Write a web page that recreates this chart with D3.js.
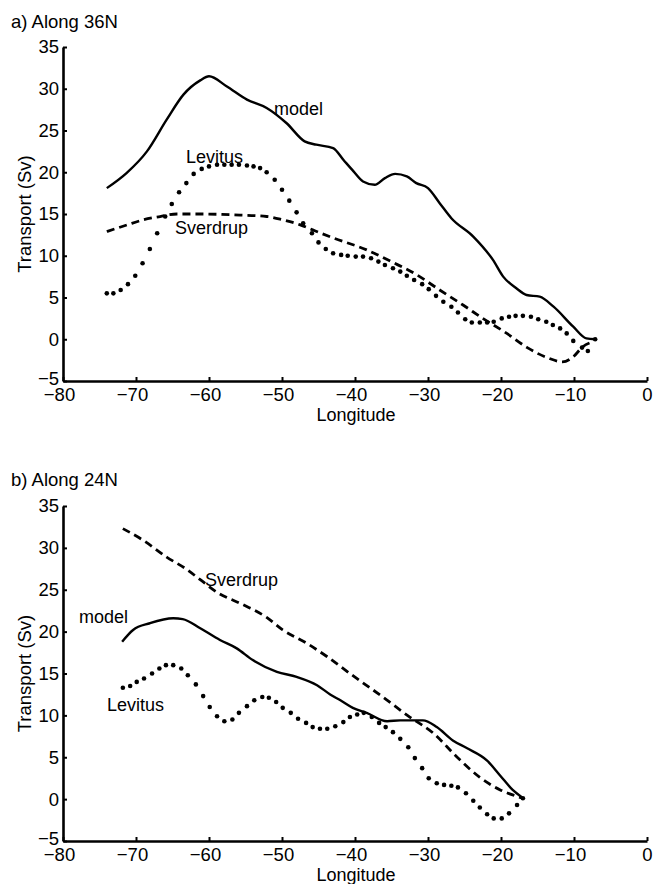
<!DOCTYPE html>
<html>
<head>
<meta charset="utf-8">
<script src="https://cdn.jsdelivr.net/npm/d3@7"></script>
<style>
  body { margin: 0; background: #fff; }
  svg { font-family: "Liberation Sans", Arial, Helvetica, sans-serif; }
</style>
</head>
<body>
<div id="chart"></div>
<script>
// tick values
const lonTicks = [-80, -70, -60, -50, -40, -30, -20, -10, 0];
const svTicks = [-5, 0, 5, 10, 15, 20, 25, 30, 35];

// a) along 36N
const modelLon36 = [-74.0, -71.3, -68.5, -65.8, -63.5, -61.2, -60.0, -57.6, -54.8, -52.1, -49.4, -46.9, -45.3, -43.0, -41.6, -40.2, -38.9, -37.3, -35.9, -34.5, -32.9, -31.6, -30.0, -28.4, -26.8, -23.8, -21.1, -19.7, -17.9, -16.5, -14.7, -12.8, -10.1, -8.3, -7.1];
const modelSv36 = [18.1, 19.9, 22.5, 26.3, 29.3, 31.0, 31.5, 30.3, 28.7, 27.7, 25.9, 23.7, 23.3, 22.9, 21.5, 20.1, 18.9, 18.5, 19.3, 19.8, 19.5, 18.7, 18.1, 16.3, 14.5, 12.3, 9.5, 7.5, 6.1, 5.3, 5.1, 3.9, 1.5, 0.1, 0.0];

const levLon36 = [-74.0, -73.1, -72.1, -71.1, -70.1, -69.1, -68.1, -67.1, -66.0, -65.1, -64.1, -63.1, -62.1, -61.0, -60.0, -58.9, -57.9, -56.9, -55.9, -54.8, -53.9, -53.0, -52.1, -51.0, -50.0, -49.0, -48.0, -47.1, -45.9, -45.0, -44.0, -43.0, -41.9, -41.0, -39.9, -38.9, -37.8, -36.8, -35.9, -34.8, -33.8, -32.9, -31.9, -30.8, -29.9, -28.9, -27.9, -26.8, -25.9, -24.9, -24.0, -22.9, -21.9, -21.0, -19.9, -18.9, -18.0, -17.0, -15.9, -14.9, -13.8, -12.9, -11.9, -11.0, -10.1, -8.9, -8.1, -7.1];
const levSv36 = [5.5, 5.5, 5.9, 6.6, 7.6, 9.1, 10.8, 12.7, 14.7, 16.2, 17.6, 18.7, 19.8, 20.4, 20.7, 20.9, 20.9, 20.9, 20.9, 20.8, 20.7, 20.5, 20.0, 19.1, 17.9, 16.6, 15.2, 13.9, 12.7, 11.6, 10.8, 10.3, 10.1, 10.0, 9.9, 9.9, 9.7, 9.3, 8.9, 8.5, 8.1, 7.6, 7.1, 6.6, 6.0, 5.2, 4.5, 3.9, 3.2, 2.4, 2.0, 2.0, 2.0, 2.1, 2.5, 2.7, 2.8, 2.8, 2.7, 2.4, 2.1, 1.7, 1.3, 0.7, -0.2, -1.0, -1.4, 0.0];

const sverLon36 = [-74.0, -71.2, -69.0, -66.7, -64.4, -61.2, -56.7, -52.1, -49.9, -47.5, -45.8, -43.2, -38.4, -34.8, -31.5, -28.4, -25.2, -22.5, -19.2, -16.4, -13.7, -11.6, -10.1, -8.8, -7.4];
const sverSv36 = [12.9, 13.7, 14.3, 14.7, 15.0, 15.0, 14.9, 14.7, 14.3, 13.7, 13.1, 12.2, 10.7, 9.2, 7.7, 5.9, 4.1, 2.5, 0.7, -1.0, -2.2, -2.7, -2.1, -0.9, -0.3];

// b) along 24N
const modelLon24 = [-71.9, -70.4, -68.1, -64.9, -63.6, -61.2, -58.5, -56.2, -54.0, -50.7, -48.0, -45.2, -43.4, -42.0, -40.3, -38.4, -35.6, -33.8, -30.7, -28.8, -26.6, -24.7, -21.9, -20.1, -18.4, -17.1];
const modelSv24 = [18.8, 20.2, 21.0, 21.6, 21.5, 20.4, 19.0, 18.0, 16.6, 15.2, 14.6, 13.6, 12.5, 11.8, 10.9, 10.3, 9.3, 9.4, 9.4, 8.6, 7.0, 6.1, 4.6, 2.8, 1.1, 0.2];

const levLon24 = [-71.8, -70.8, -69.9, -68.9, -67.8, -66.8, -65.9, -64.9, -63.8, -62.9, -61.8, -60.8, -59.9, -58.9, -57.9, -56.8, -55.9, -54.8, -53.8, -52.7, -51.8, -50.8, -49.9, -48.8, -47.8, -46.7, -45.8, -44.8, -43.8, -42.7, -41.6, -40.7, -39.7, -38.8, -37.7, -36.7, -35.8, -34.8, -33.8, -32.7, -31.8, -30.8, -29.9, -28.8, -27.8, -26.8, -25.9, -24.8, -23.8, -22.9, -21.9, -21.0, -19.9, -18.9, -17.8, -17.0];
const levSv24 = [13.3, 13.5, 14.0, 14.4, 15.0, 15.6, 16.0, 16.0, 15.6, 14.8, 13.7, 12.3, 11.0, 9.9, 9.3, 9.5, 10.3, 11.1, 11.8, 12.2, 12.1, 11.6, 10.9, 10.3, 9.6, 9.1, 8.6, 8.4, 8.4, 8.7, 9.2, 9.8, 10.1, 10.3, 9.8, 9.1, 8.6, 8.0, 7.2, 6.2, 4.9, 3.7, 2.5, 1.9, 1.7, 1.6, 1.4, 0.7, -0.2, -1.0, -1.8, -2.3, -2.3, -1.7, -0.7, 0.1];

const sverLon24 = [-71.8, -69.0, -65.8, -63.0, -61.2, -58.9, -55.3, -52.1, -49.9, -46.6, -43.8, -40.7, -36.2, -32.5, -29.3, -26.0, -22.9, -20.1, -18.4, -17.0];
const sverSv24 = [32.3, 30.9, 28.9, 27.4, 26.2, 24.7, 23.2, 21.7, 20.2, 18.6, 17.0, 15.0, 12.2, 9.8, 7.9, 5.0, 2.6, 1.1, 0.5, 0.1];

const width = 653, height = 884;
const svg = d3.select('#chart').append('svg')
  .attr('width', width)
  .attr('height', height);

const zip = (xs, ys) => xs.map((d, i) => ({ lon: d, sv: ys[i] }));

function panel(opts) {
  const x = d3.scaleLinear().domain([-80, 0]).range([63, 647]);
  const y = d3.scaleLinear().domain([-5, 35]).range([opts.bottom, opts.top]);
  const g = svg.append('g');

  // title
  g.append('text')
    .attr('x', 11)
    .attr('y', opts.titleY)
    .style('font-size', '18.5px')
    .text(opts.title);

  // axes (box off, ticks inward)
  const yAxis = g.append('g')
    .attr('transform', 'translate(63,0)')
    .call(d3.axisLeft(y).tickValues(svTicks).tickSizeInner(-4).tickSizeOuter(0).tickPadding(4).tickFormat(d3.format('d')));
  const xAxis = g.append('g')
    .attr('transform', `translate(0,${opts.bottom})`)
    .call(d3.axisBottom(x).tickValues(lonTicks).tickSizeInner(-4).tickSizeOuter(0).tickPadding(7).tickFormat(d3.format('d')));
  [yAxis, xAxis].forEach((a) => {
    a.select('.domain').attr('stroke-width', 2.6);
    a.selectAll('.tick line').attr('stroke-width', 2);
    a.selectAll('text').style('font-size', '18.5px').attr('fill', '#000');
  });
  xAxis.selectAll('.tick text').attr('dx', (d) => (d < 0 ? -4 : 0));
  // lowest y label sits a touch higher so it clears the -80
  yAxis.selectAll('.tick text').filter((d) => d === -5).attr('dy', '0.2em');

  g.append('text')
    .attr('x', 356)
    .attr('y', opts.bottom + 39.5)
    .attr('text-anchor', 'middle')
    .style('font-size', '18px')
    .text('Longitude');

  g.append('text')
    .attr('transform', `translate(31,${(opts.top + opts.bottom) / 2}) rotate(-90)`)
    .attr('text-anchor', 'middle')
    .style('font-size', '18.5px')
    .text('Transport (Sv)');

  const line = d3.line()
    .x((d) => x(d.lon))
    .y((d) => y(d.sv))
    .curve(d3.curveMonotoneX);

  // Sverdrup (dashed)
  g.append('path')
    .datum(zip(opts.sverLon, opts.sverSv))
    .attr('d', line)
    .attr('fill', 'none')
    .attr('stroke', '#000')
    .attr('stroke-width', 2.8)
    .attr('stroke-dasharray', '8,5');

  // model (solid)
  g.append('path')
    .datum(zip(opts.modelLon, opts.modelSv))
    .attr('d', line)
    .attr('fill', 'none')
    .attr('stroke', '#000')
    .attr('stroke-width', 2.4)
    .attr('stroke-linejoin', 'round');

  // Levitus (dots)
  g.selectAll('circle.lev')
    .data(zip(opts.levLon, opts.levSv))
    .join('circle')
    .attr('class', 'lev')
    .attr('cx', (d) => x(d.lon))
    .attr('cy', (d) => y(d.sv))
    .attr('r', 2.3)
    .attr('fill', '#000');

  // curve labels
  opts.labels.forEach((l) => {
    g.append('text')
      .attr('x', l.x)
      .attr('y', l.y)
      .style('font-size', '18px')
      .text(l.text);
  });
}

panel({
  title: 'a) Along 36N', titleY: 28, top: 47, bottom: 381,
  modelLon: modelLon36, modelSv: modelSv36,
  levLon: levLon36, levSv: levSv36,
  sverLon: sverLon36, sverSv: sverSv36,
  labels: [
    { text: 'model', x: 274, y: 115 },
    { text: 'Levitus', x: 186, y: 163 },
    { text: 'Sverdrup', x: 175, y: 234 },
  ],
});

panel({
  title: 'b) Along 24N', titleY: 486, top: 506, bottom: 841,
  modelLon: modelLon24, modelSv: modelSv24,
  levLon: levLon24, levSv: levSv24,
  sverLon: sverLon24, sverSv: sverSv24,
  labels: [
    { text: 'model', x: 79, y: 623 },
    { text: 'Sverdrup', x: 205, y: 586 },
    { text: 'Levitus', x: 107, y: 711 },
  ],
});
</script>
</body>
</html>
